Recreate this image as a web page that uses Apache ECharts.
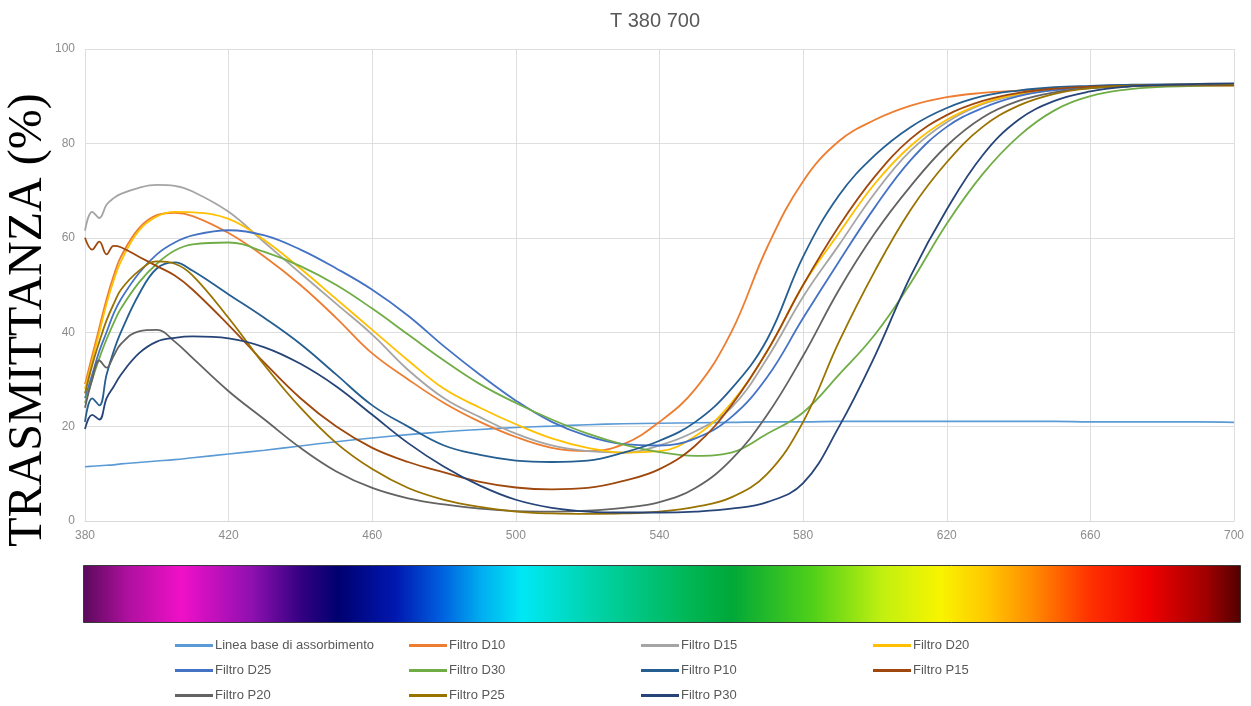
<!DOCTYPE html>
<html><head><meta charset="utf-8">
<script src="https://cdn.jsdelivr.net/npm/echarts@6/dist/echarts.min.js"></script>
<style>html,body{margin:0;padding:0;background:#fff}#c{width:1251px;height:706px}</style>
</head><body><div id="c"></div>
<script>
const wavelengths = [380,382,384,386,388,390,395,400,405,410,420,430,440,450,460,470,480,490,500,510,520,530,540,550,560,570,580,590,600,610,620,630,640,650,660,670,680,690,700];
const lineaBase = [11.5,11.6,11.7,11.8,11.9,12.1,12.4,12.7,13.0,13.4,14.2,15.0,15.9,16.8,17.6,18.3,18.9,19.4,19.8,20.1,20.4,20.6,20.7,20.8,20.9,21.0,21.0,21.1,21.1,21.1,21.1,21.1,21.1,21.1,21.0,21.0,21.0,21.0,20.9];
const filtroD10 = [29,35,41,47,52,56,62,64.8,65.3,64.6,61,56,50,43,35.5,30,25,21,17.8,15.5,14.8,16.3,21,28,40,58,72,80.5,85,88,89.8,90.7,91.2,91.6,91.9,92.1,92.2,92.3,92.3];
const filtroD15 = [61.5,65.5,64.2,67,68.4,69.3,70.6,71.2,71.0,69.8,65.5,59,52.5,46,39.5,32,26,22,18.5,16,14.8,14.5,16,19,24,34.5,47.5,58.5,69.5,78.5,84.5,88.3,90.3,91.3,91.8,92.1,92.3,92.4,92.5];
const filtroD20 = [28,34,40,46,51,55,61.5,64.5,65.5,65.4,64,59.5,53.5,47,40.5,34,28,24,20.5,17.5,15.5,14.5,14.8,18,25,36,50,61,71.5,79.5,85,88.5,90.5,91.5,92,92.2,92.3,92.3,92.3];
const filtroD25 = [26,31,36,40,44,47,52.5,56.5,59,60.5,61.6,60.5,57.5,53.5,49,43.5,37,31,25.5,21,18,16.3,16,17.5,22,30.5,43,55,66.5,76.5,83.5,87.5,90,91.3,92,92.3,92.4,92.5,92.5];
const filtroD30 = [25,30,34.5,38.5,42,45,50.5,54.5,57.3,58.6,59,57,54,50,45,39.5,34,29,25,21.5,18.5,16.2,14.6,13.8,14.5,18.5,23,31,39.5,50.5,63,73.5,81.5,87,90,91.4,92,92.2,92.3];
const filtroP10 = [21,26,24.5,31,36,40,48,53.5,54.8,53,48,43,37.5,31,24.5,20,16,14,12.8,12.5,12.8,14.5,17,21,28,38.5,56,69,77.5,83.5,87.5,90,91.2,91.9,92.2,92.4,92.5,92.5,92.5];
const filtroP15 = [60,57.5,59.2,56.5,58.3,58,56,54,52,49,41.5,33.5,26,20,15.5,12.5,10.3,8.3,7.1,6.7,7,8.5,11,16,24.5,36,50,62.5,73,81,86,89,90.7,91.6,92,92.2,92.3,92.3,92.3];
const filtroP20 = [24,30,34,32.5,35,37.5,40.2,40.5,38,34.5,27.5,21.5,15.5,10.5,7,4.8,3.5,2.6,2.1,2,2.2,2.8,4,7,13,22.5,35,49,61,71,79.5,85.5,89,90.8,91.7,92.1,92.3,92.4,92.5];
const filtroP25 = [27,33,38,42.5,46,49,53,55,54.5,52,43,33,24,16.5,11,7,4.5,3,2,1.6,1.5,1.6,2,3,5,10,21,38,53,66,76,83.5,88,90.5,91.7,92.2,92.4,92.5,92.5];
const filtroP30 = [19.5,22.5,21.5,26,28.5,31,35.5,38,38.8,39.1,38.7,36.8,33.3,28.5,22.5,16.5,11.5,7.5,4.5,2.8,2,1.8,1.8,2,2.6,4,8,20,35,52,66,77.5,85,89,91,92,92.4,92.6,92.7];

const seriesNames = ['Linea base di assorbimento','Filtro D10','Filtro D15','Filtro D20','Filtro D25','Filtro D30','Filtro P10','Filtro P15','Filtro P20','Filtro P25','Filtro P30'];
const seriesValues = [lineaBase,filtroD10,filtroD15,filtroD20,filtroD25,filtroD30,filtroP10,filtroP15,filtroP20,filtroP25,filtroP30];
const seriesColors = ['#5B9BD5','#ED7D31','#A5A5A5','#FFC000','#4472C4','#70AD47','#255E91','#9E480E','#636363','#997300','#264478'];
const xTicks = {min:380,max:700,interval:40};
const yTicks = {min:0,max:100,interval:20};

const chart = echarts.init(document.getElementById('c'), null, {renderer:'canvas'});
const font = "'Liberation Sans', Arial, sans-serif";

const legendCols = [175, 409, 641, 873];
const legendRows = [647, 672, 697];
const legends = seriesNames.map((n,i)=>({
  left: legendCols[i%4], top: legendRows[Math.floor(i/4)] - 8,
  padding: 0, itemGap: 0, itemWidth: 38, itemHeight: 3, icon: 'rect',
  textStyle: {fontSize: 13, color: '#595959', fontFamily: font, padding:[0,0,0,-3]},
  data: [n]
}));

const series = seriesNames.map((n,i)=>({
  name: n, type: 'line', smooth: 0.4, showSymbol: false, symbol: 'none',
  lineStyle: {width: i===0 ? 1.6 : 1.8, color: seriesColors[i]},
  itemStyle: {color: seriesColors[i]},
  emphasis: {disabled: true},
  data: wavelengths.map((w,k)=>[w, seriesValues[i][k]])
}));

chart.setOption({
  animation: false,
  backgroundColor: '#fff',
  title: {text: 'T 380 700', left: 650, top: 6, textAlign: 'center',
    textStyle: {fontSize: 20, fontWeight: 'normal', color: '#595959', fontFamily: font}},
  grid: {left: 85, right: 17, top: 49, bottom: 185, containLabel: false},
  legend: legends,
  xAxis: {type: 'value', min: xTicks.min, max: xTicks.max, interval: xTicks.interval,
    axisLine: {show: true, lineStyle: {color: '#d9d9d9'}}, axisTick: {show: false},
    axisLabel: {color: '#8c8c8c', fontSize: 12, margin: 9, fontFamily: font},
    splitLine: {show: true, lineStyle: {color: '#dedede', width: 1}}},
  yAxis: {type: 'value', min: yTicks.min, max: yTicks.max, interval: yTicks.interval,
    axisLine: {show: false}, axisTick: {show: false},
    axisLabel: {color: '#8c8c8c', fontSize: 12, margin: 10, fontFamily: font},
    splitLine: {show: true, lineStyle: {color: '#dedede', width: 1}}},
  graphic: [
    {type: 'rect', left: 83, top: 565, shape: {width: 1157, height: 57},
      style: {stroke: '#3a3a3a', lineWidth: 1,
        fill: new echarts.graphic.LinearGradient(0,0,1,0,[
          {offset:0, color:'#5a0a5a'},
          {offset:0.04, color:'#b010a0'},
          {offset:0.085, color:'#f010c8'},
          {offset:0.145, color:'#9010b0'},
          {offset:0.19, color:'#300080'},
          {offset:0.22, color:'#000070'},
          {offset:0.27, color:'#0018b0'},
          {offset:0.31, color:'#0060e0'},
          {offset:0.345, color:'#00b0f0'},
          {offset:0.38, color:'#00e8f4'},
          {offset:0.45, color:'#00d0a0'},
          {offset:0.52, color:'#00b858'},
          {offset:0.56, color:'#00a838'},
          {offset:0.63, color:'#50d018'},
          {offset:0.69, color:'#c0f010'},
          {offset:0.74, color:'#f8f400'},
          {offset:0.78, color:'#ffc800'},
          {offset:0.82, color:'#ff8c00'},
          {offset:0.87, color:'#ff3000'},
          {offset:0.92, color:'#f00000'},
          {offset:0.97, color:'#a00000'},
          {offset:1, color:'#500000'}
        ])}},
    {type: 'text', x: 28, y: 320, rotation: Math.PI/2,
      style: {text: 'TRASMITTANZA (%)', font: "48px 'Liberation Serif', 'Times New Roman', serif",
        fill: '#000', textAlign: 'center', textVerticalAlign: 'middle'}}
  ],
  series: series
});
</script>
</body></html>
